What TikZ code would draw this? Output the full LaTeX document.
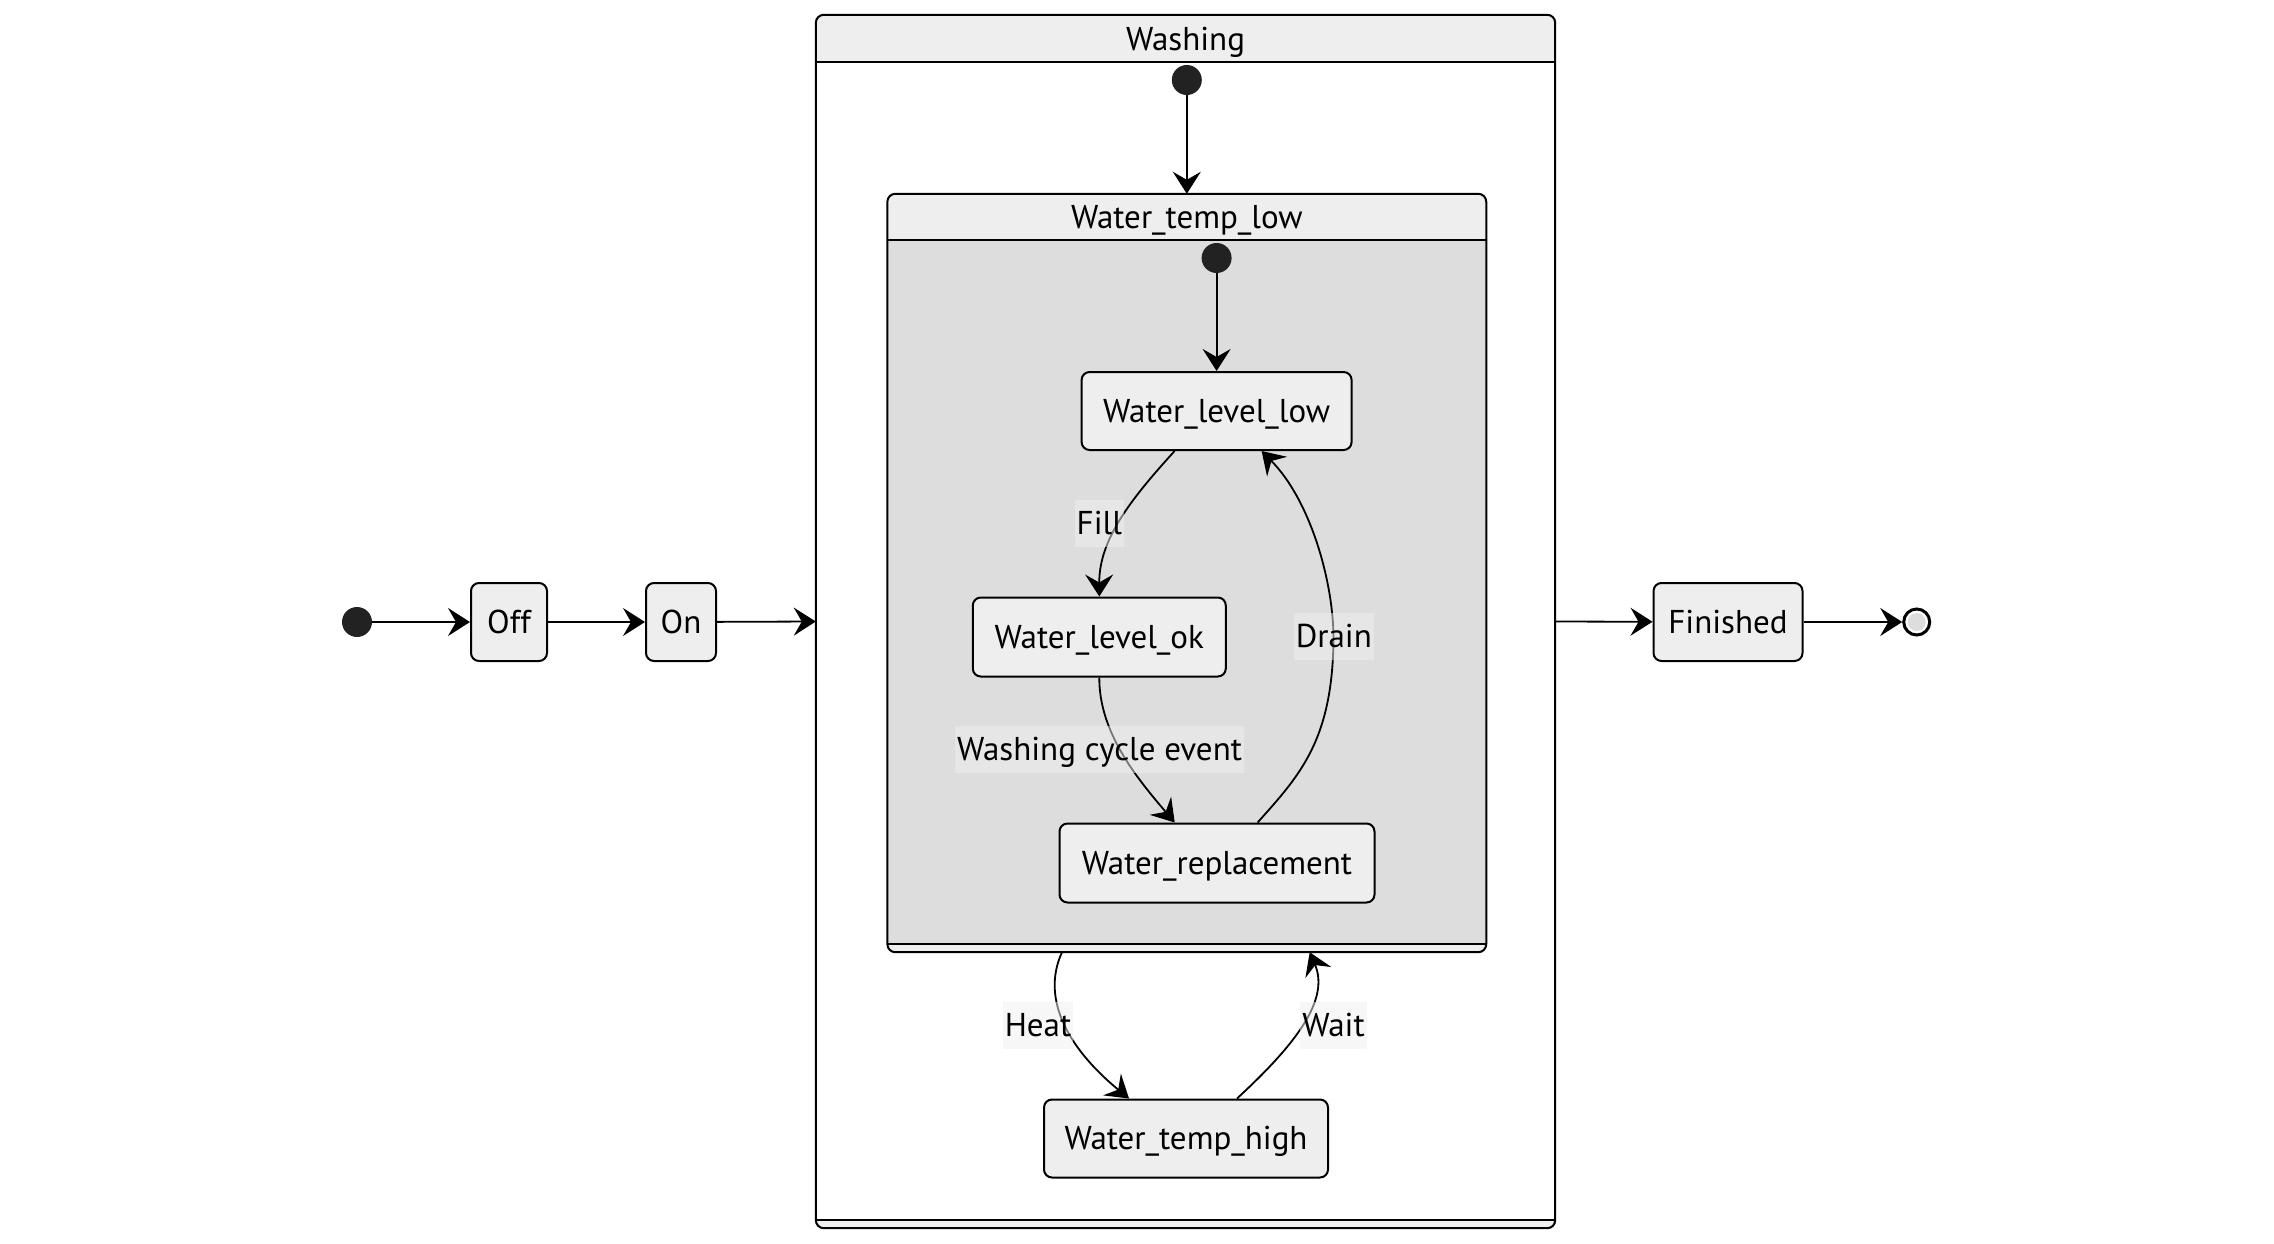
\documentclass[tikz,border=0pt]{standalone}
\usepackage{fontspec}
\setmainfont{PT Sans}
\usetikzlibrary{arrows.meta,calc}
\definecolor{nodefill}{HTML}{EEEEEE}
\definecolor{bodygrey}{HTML}{DDDDDD}
\definecolor{dotc}{HTML}{222222}
\definecolor{lblbg}{HTML}{F0F0F0}
\begin{document}
\begin{tikzpicture}[x=1pt,y=-1pt,
 txt/.style={font=\fontsize{33}{39}\selectfont, text=black, text height=22pt, text depth=0pt},
 state/.style={txt, draw=black, fill=nodefill, line width=2pt, rounded corners=8pt, minimum height=78pt, inner xsep=4pt, inner ysep=0pt},
 initdot/.style={circle, fill=dotc, minimum size=30pt, inner sep=0pt},
 edge/.style={line width=1.8pt, -{Stealth[length=22pt,width=28pt,inset=8pt]}},
 lbl/.style={txt, fill=lblbg, fill opacity=0.5, text opacity=1, minimum height=47pt, inner xsep=2pt, inner ysep=0pt},
 compline/.style={line width=2pt, draw=black},
 compbox/.style={fill=nodefill, rounded corners=8pt, inner sep=0pt}
]
\useasboundingbox (0,0) rectangle (2274,1244);

% ---- outer composite: Washing
\node[compbox, minimum width=739pt, minimum height=1213pt] (wash) at (1185.5,621.5) {};
\fill[white] ([yshift=-47pt]wash.north west) rectangle ([yshift=8pt]wash.south east);
\draw[compline] ([yshift=-47pt]wash.north west) -- ([yshift=-47pt]wash.north east);
\draw[compline] ([yshift=8pt]wash.south west) -- ([yshift=8pt]wash.south east);
\draw[compline, rounded corners=8pt] (wash.north west) rectangle (wash.south east);
\node[txt] (washt) at ([yshift=-24.5pt]wash.north) {Washing};

% ---- inner composite: Water_temp_low
\node[compbox, minimum width=598.5pt, minimum height=758pt] (wtl) at (1186.8,573) {};
\fill[bodygrey] ([yshift=-46pt]wtl.north west) rectangle ([yshift=8pt]wtl.south east);
\draw[compline] ([yshift=-46pt]wtl.north west) -- ([yshift=-46pt]wtl.north east);
\draw[compline] ([yshift=8pt]wtl.south west) -- ([yshift=8pt]wtl.south east);
\draw[compline, rounded corners=8pt] (wtl.north west) rectangle (wtl.south east);
\node[txt] (wtlt) at ([yshift=-23.5pt]wtl.north) {Water\_temp\_low};

% ---- simple states
\node[initdot] (start) at (357,622) {};
\node[state, minimum width=76pt] (off) at (509,622) {Off};
\node[state, minimum width=70pt] (on) at (681,622) {On};
\node[initdot] (wdot) at (1186.8,80) {};
\node[initdot] (idot) at (1216.6,258) {};
\node[state, minimum width=270pt] (wll) at (1216.6,411) {Water\_level\_low};
\node[state, minimum width=253pt, minimum height=79pt] (wlok) at (1099.3,637) {Water\_level\_ok};
\node[state, minimum width=315pt, minimum height=79pt] (wrep) at (1217,863) {Water\_replacement};
\node[state, minimum width=284pt] (wth) at (1186,1138.5) {Water\_temp\_high};
\node[state, minimum width=149pt] (fin) at (1728,622) {Finished};
\node[circle, draw=black, line width=3pt, fill=white, minimum size=26pt, inner sep=0pt] (endst) at (1916.7,622) {};
\fill[bodygrey] (endst.center) circle (9pt);

% ---- connectors
\draw[edge] (start) -- (off);
\draw[edge] (off) -- (on);
\draw[edge] (on) -- (wash.west);
\draw[edge] (wash.east) -- (fin);
\draw[edge] (fin) -- (endst);
\draw[edge] (wdot) -- (wtl.north);
\draw[edge] (idot) -- (wll.north);
\draw[edge] ([xshift=-42pt]wll.south) .. controls (1130,500) and (1099,540) .. (wlok.north);
\draw[edge] (wlok.south) .. controls (1099,732) and (1136,777) .. ([xshift=-42.3pt]wrep.north);
\draw[edge] ([xshift=40.6pt]wrep.north) .. controls (1300,775) and (1333,740) .. (1333.5,637) .. controls (1333,580) and (1310,500) .. ([xshift=45pt]wll.south);
\draw[edge] ([xshift=-124.8pt]wtl.south) .. controls (1040,1000) and (1070,1050) .. ([xshift=-57pt]wth.north);
\draw[edge] ([xshift=51pt]wth.north) .. controls (1295,1045) and (1330,1000) .. ([xshift=122.9pt]wtl.south);

% ---- labels
\node[lbl] (lfill) at (1099.3,523.5) {Fill};
\node[lbl] (ldrain) at (1333.8,636.7) {Drain};
\node[lbl] (lwce) at (1099.5,749.5) {Washing cycle event};
\node[lbl] (lheat) at (1038,1025.5) {Heat};
\node[lbl] (lwait) at (1333.5,1025.5) {Wait};
\end{tikzpicture}
\end{document}
